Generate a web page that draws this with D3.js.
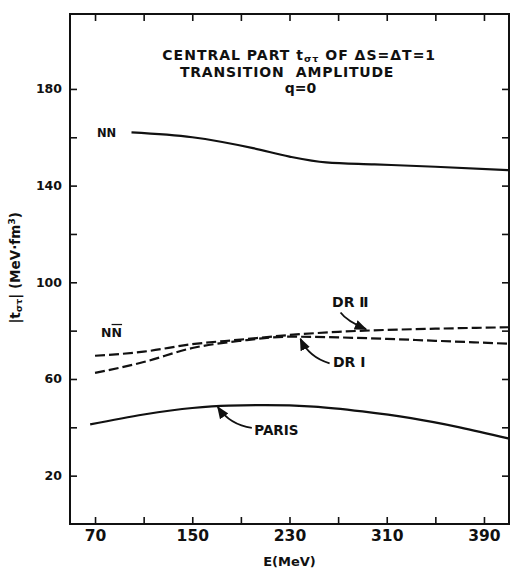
<!DOCTYPE html>
<html>
<head>
<meta charset="utf-8">
<script src="https://cdn.jsdelivr.net/npm/d3@7"></script>
<style>
  html, body { margin: 0; padding: 0; background: #fff; }
  svg { display: block; }
  text { font-family: "DejaVu Sans", sans-serif; font-weight: bold; fill: #111; }
</style>
</head>
<body>
<script>
// Energy grid (MeV) and |t_στ| values (MeV·fm³) for each potential
const nnE      = [100, 150, 200, 230, 260, 300, 350, 410];
const nnVals   = [162, 160, 155.5, 152, 149.6, 148.8, 147.8, 146.4];

const dr2E     = [70, 110, 150, 190, 230, 270, 310, 350, 410];
const dr2Vals  = [69.6, 71.3, 74.4, 76.3, 78.2, 79.5, 80.3, 80.8, 81.4];

const dr1E     = [70, 110, 150, 190, 230, 270, 310, 350, 410];
const dr1Vals  = [62.5, 67, 72.8, 75.8, 77.5, 77.2, 76.6, 75.8, 74.6];

const parisE    = [66, 110, 150, 180, 210, 250, 290, 330, 370, 410];
const parisVals = [41.2, 45.3, 48.0, 49.0, 49.2, 48.6, 46.6, 43.8, 40.0, 35.4];

const xTicks      = [70, 110, 150, 190, 230, 270, 310, 350, 390];
const xTickLabels = [70, 150, 230, 310, 390];
const yTicks      = [20, 40, 60, 80, 100, 120, 140, 160, 180];
const yTickLabels = [20, 60, 100, 140, 180];

const W = 515, H = 569;
const m = { left: 70, right: 6, top: 14, bottom: 45 };
const iw = W - m.left - m.right, ih = H - m.top - m.bottom;

const x = d3.scaleLinear().domain([49.4, 410.6]).range([0, iw]);
const y = d3.scaleLinear().domain([0, 211]).range([ih, 0]);

const svg = d3.select("body").append("svg").attr("width", W).attr("height", H);
const g = svg.append("g").attr("transform", `translate(${m.left},${m.top})`);

// frame
g.append("rect").attr("width", iw).attr("height", ih)
  .attr("fill", "none").attr("stroke", "#111").attr("stroke-width", 2);

const tickLen = 7;
function styleAxis(sel, fontSize) {
  sel.select(".domain").remove();
  sel.selectAll(".tick line").attr("stroke", "#111").attr("stroke-width", 1.6);
  sel.selectAll(".tick text").attr("fill", "#111").style("font-size", fontSize + "px")
    .style("font-family", "\"DejaVu Sans\", sans-serif").style("font-weight", "bold");
}
const fmtX = d => xTickLabels.includes(d) ? d : "";
const fmtY = d => yTickLabels.includes(d) ? d : "";

g.append("g").attr("transform", `translate(0,${ih})`)
  .call(d3.axisBottom(x).tickValues(xTicks).tickSize(-tickLen).tickPadding(6).tickFormat(fmtX))
  .call(s => styleAxis(s, 15.5));
g.append("g")
  .call(d3.axisTop(x).tickValues(xTicks).tickSize(-tickLen).tickFormat(""))
  .call(s => styleAxis(s, 14));
g.append("g")
  .call(d3.axisLeft(y).tickValues(yTicks).tickSize(-tickLen).tickPadding(8).tickFormat(fmtY))
  .call(s => styleAxis(s, 12.5));
g.append("g").attr("transform", `translate(${iw},0)`)
  .call(d3.axisRight(y).tickValues(yTicks).tickSize(-tickLen).tickFormat(""))
  .call(s => styleAxis(s, 12));

// curves
const line = d3.line().x(d => x(d[0])).y(d => y(d[1])).curve(d3.curveMonotoneX);
function drawSeries(es, vs, dashed) {
  g.append("path").datum(es.map((e, i) => [e, vs[i]]))
    .attr("d", line).attr("fill", "none").attr("stroke", "#111")
    .attr("stroke-width", 2.2)
    .attr("stroke-dasharray", dashed ? "10,4" : null);
}
drawSeries(nnE, nnVals, false);
drawSeries(dr2E, dr2Vals, true);
drawSeries(dr1E, dr1Vals, true);
drawSeries(parisE, parisVals, false);

// arrowhead marker
svg.append("defs").append("marker").attr("id", "ah")
  .attr("viewBox", "0 0 10 10").attr("refX", 9).attr("refY", 5)
  .attr("markerWidth", 7).attr("markerHeight", 7).attr("orient", "auto")
  .append("path").attr("d", "M0,1 L10,5 L0,9 Z").attr("fill", "#111");

// annotation arrows: tail, control, tip in data units
const arrows = [
  { from: [272, 87.5], ctrl: [277, 84], to: [293, 80.6] },
  { from: [263, 66.5], ctrl: [246, 69], to: [239, 76.6] },
  { from: [199, 39.8], ctrl: [181, 41], to: [171, 48.4] }
];
arrows.forEach(a => {
  g.append("path")
    .attr("d", `M${x(a.from[0])},${y(a.from[1])} Q${x(a.ctrl[0])},${y(a.ctrl[1])} ${x(a.to[0])},${y(a.to[1])}`)
    .attr("fill", "none").attr("stroke", "#111").attr("stroke-width", 1.8)
    .attr("marker-end", "url(#ah)");
});

// curve labels
g.append("text").attr("x", x(71.6)).attr("y", y(160.1)).style("font-size", "11.5px").text("NN");
const nbar = g.append("text").attr("x", x(75)).attr("y", y(77.4)).style("font-size", "12.5px");
nbar.append("tspan").text("N");
nbar.append("tspan").style("text-decoration", "overline").text("N");
g.append("text").attr("x", x(265)).attr("y", y(89.8)).style("font-size", "14px").text("DR Ⅱ");
g.append("text").attr("x", x(265.8)).attr("y", y(65)).style("font-size", "14px").text("DR Ⅰ");
g.append("text").attr("x", x(201)).attr("y", y(36.8)).style("font-size", "13.5px").text("PARIS");

// title block
const t1 = g.append("text").attr("x", x(238)).attr("y", y(192)).attr("text-anchor", "middle")
  .style("font-size", "14px").style("letter-spacing", "1px");
t1.append("tspan").text("CENTRAL PART t");
t1.append("tspan").attr("dy", 2).style("font-size", "9.5px").text("στ");
t1.append("tspan").attr("dy", -2).text(" OF ΔS=ΔT=1");
g.append("text").attr("x", x(228)).attr("y", y(185)).attr("text-anchor", "middle")
  .style("font-size", "14px").style("letter-spacing", "0.8px")
  .attr("xml:space", "preserve").text("TRANSITION  AMPLITUDE");
g.append("text").attr("x", x(239)).attr("y", y(178.3)).attr("text-anchor", "middle")
  .style("font-size", "14px").text("q=0");

// axis titles
svg.append("text").attr("x", m.left + x(230)).attr("y", 566).attr("text-anchor", "middle")
  .style("font-size", "13px").text("E(MeV)");
const yl = svg.append("text").attr("transform", `translate(20,${m.top + y(106)}) rotate(-90)`)
  .attr("text-anchor", "middle").style("font-size", "13.5px");
yl.append("tspan").text("|t");
yl.append("tspan").attr("dy", 2).style("font-size", "9.5px").text("στ");
yl.append("tspan").attr("dy", -2).text("| (MeV·fm");
yl.append("tspan").attr("dy", -5).style("font-size", "9.5px").text("3");
yl.append("tspan").attr("dy", 5).text(")");
</script>
</body>
</html>
